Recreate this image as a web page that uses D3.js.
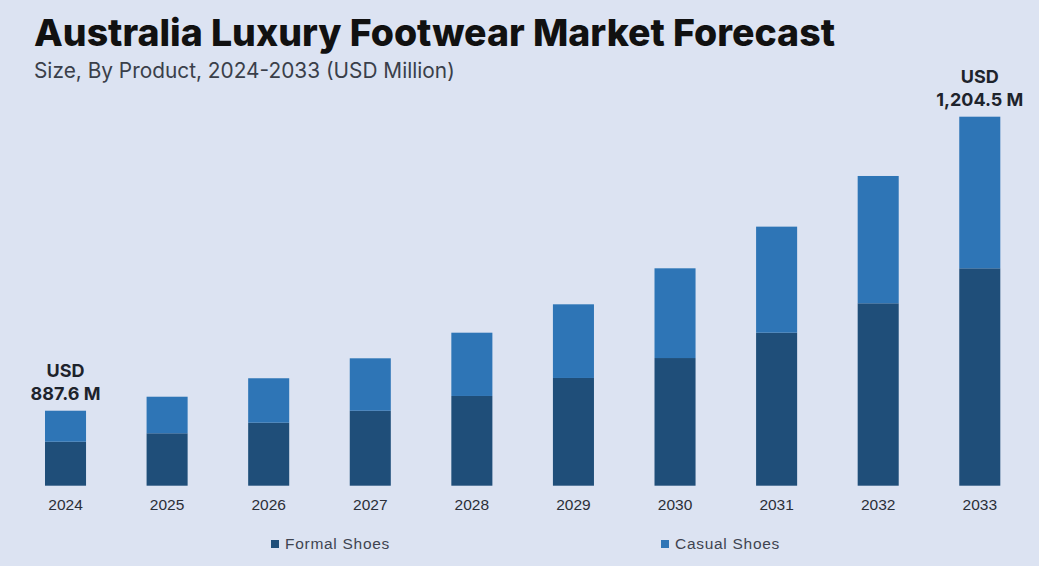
<!DOCTYPE html>
<html>
<head>
<meta charset="utf-8">
<script src="https://cdn.jsdelivr.net/npm/d3@7"></script>
<style>
  html, body { margin: 0; padding: 0; background: #dce3f2; }
  svg { display: block; }
</style>
</head>
<body>
<svg id="chart" width="1039" height="566"></svg>
<script>
// Forecast years
const years = ["2024", "2025", "2026", "2027", "2028", "2029", "2030", "2031", "2032", "2033"];
// Formal shoes segment (USD million)
const formalShoes = [854.2, 863.3, 874.7, 887.6, 903.5, 922.9, 944.4, 971.7, 1003.4, 1041.1];
// Casual shoes segment (USD million)
const casualShoes = [33.4, 39.4, 47.9, 56.5, 68.2, 79.4, 96.7, 114.3, 137.2, 163.4];
// Value axis starts above zero (truncated scale)
const axisFloor = 806.8;
// Totals called out above the first and last bars
const calloutYears = ["2024", "2033"];
const seriesNames = ["Formal Shoes", "Casual Shoes"];

const W = 1039, H = 566;
const colors = { "Formal Shoes": "#1f4e79", "Casual Shoes": "#2e75b6" };

const svg = d3.select("#chart");
svg.append("rect").attr("width", W).attr("height", H).attr("fill", "#dce3f2");

const rows = years.map((y, i) => ({
  year: y,
  "Formal Shoes": formalShoes[i],
  "Casual Shoes": casualShoes[i]
}));

const stack = d3.stack().keys(seriesNames);
const layers = stack(rows);

const x = d3.scaleBand()
  .domain(years)
  .range([45, 1000.3])
  .paddingInner(0.596)
  .paddingOuter(0);

const totals = rows.map(r => r["Formal Shoes"] + r["Casual Shoes"]);
const y = d3.scaleLinear()
  .domain([axisFloor, d3.max(totals)])
  .range([485.7, 116.7])
  .clamp(true);

// Stacked bars
svg.append("g").selectAll("g")
  .data(layers)
  .join("g")
  .attr("fill", d => colors[d.key])
  .selectAll("rect")
  .data(d => d)
  .join("rect")
  .attr("x", d => x(d.data.year))
  .attr("width", x.bandwidth())
  .attr("y", d => y(d[1]))
  .attr("height", d => y(d[0]) - y(d[1]));

// Year axis (no domain line or ticks)
const xAxis = svg.append("g")
  .attr("transform", "translate(0,489)")
  .call(d3.axisBottom(x).tickSize(0).tickPadding(10));
xAxis.select(".domain").remove();
xAxis.selectAll("text")
  .attr("font-family", "Liberation Sans, Arial, sans-serif")
  .attr("font-size", 15.5)
  .attr("fill", "#2b2f38");

// Total callouts
const fmt = d3.format(",.1f");
calloutYears.forEach(yr => {
  const i = years.indexOf(yr);
  const cx = x(yr) + x.bandwidth() / 2;
  const top = y(totals[i]);
  const g = svg.append("g")
    .attr("font-family", "Inter, 'Open Sans', sans-serif")
    .attr("font-weight", 700)
    .attr("font-size", 18)
    .attr("fill", "#1e232c")
    .attr("text-anchor", "middle");
  g.append("text").attr("x", cx).attr("y", top - 33.5).text("USD");
  g.append("text").attr("x", cx).attr("y", top - 11).text(fmt(totals[i]) + " M");
});

// Title and subtitle
const title = svg.append("text")
  .attr("x", 34).attr("y", 46)
  .attr("font-family", "Inter, 'Open Sans', sans-serif")
  .attr("font-weight", 800)
  .attr("font-size", 31)
  .attr("fill", "#111111")
  .text("Australia Luxury Footwear Market Forecast");
const tw = title.node().getComputedTextLength();
title.attr("font-size", 31 * 801 / tw);

const sub = svg.append("text")
  .attr("x", 34).attr("y", 78)
  .attr("font-family", "Inter, 'Open Sans', sans-serif")
  .attr("font-size", 18)
  .attr("fill", "#3a3f4a")
  .text("Size, By Product, 2024-2033 (USD Million)");
const sw = sub.node().getComputedTextLength();
sub.attr("font-size", 18 * 421 / sw);

// Legend
const legendX = { "Formal Shoes": 271, "Casual Shoes": 661 };
const legend = svg.append("g");
seriesNames.forEach(name => {
  const lg = legend.append("g").attr("transform", `translate(${legendX[name]},544)`);
  lg.append("rect").attr("x", 0).attr("y", -4).attr("width", 8).attr("height", 8).attr("fill", colors[name]);
  const t = lg.append("text")
    .attr("x", 14).attr("y", 5)
    .attr("font-family", "Liberation Sans, Arial, sans-serif")
    .attr("font-size", 15.5)
    .attr("fill", "#3f4450")
    .text(name);
  const w = t.node().getComputedTextLength();
  const n = name.length;
  t.attr("letter-spacing", Math.max(0, (105 - w) / n));
});
</script>
</body>
</html>
